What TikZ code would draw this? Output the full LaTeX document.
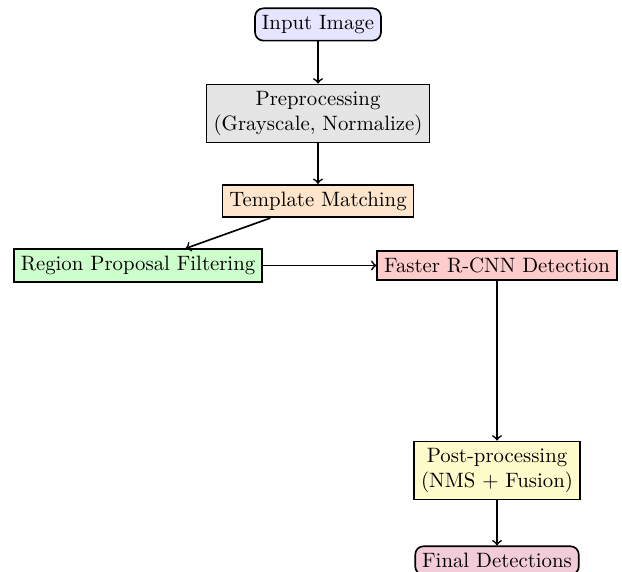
\documentclass[tikz,border=0pt]{standalone}
\usepackage{tikz}
\tikzstyle{stage} = [draw=black, thick, rectangle, align=center]
\tikzstyle{term} = [stage, rounded corners=4pt]
\tikzstyle{flow} = [->, thick]

\begin{document}
\begin{tikzpicture}[x=0.0169cm, y=-0.0169cm]
  \useasboundingbox (0,0) rectangle (622,571);
  \node[term,fill=blue!10](img) at (318,24.5){Input Image};
  \node[stage,fill=gray!20](pre) at (318,113.5){Preprocessing\\(Grayscale, Normalize)};
  \node[stage,fill=orange!20](tm) at (318,201){Template Matching};
  \node[stage,fill=green!20](rpf) at (138,265.5){Region Proposal Filtering};
  \node[stage,fill=red!20](frcnn) at (497,265.5){Faster R-CNN Detection};
  \node[stage,fill=yellow!20](post) at (497,470.5){Post-processing\\(NMS + Fusion)};
  \node[term,fill=purple!20](out) at (497,560.5){Final Detections};
  \draw[flow](img)--(pre);
  \draw[flow](pre)--(tm);
  \draw[flow](tm)--(rpf);
  \draw[flow](rpf)--(frcnn);
  \draw[flow](frcnn)--(post);
  \draw[flow](post)--(out);
\end{tikzpicture}
\end{document}
